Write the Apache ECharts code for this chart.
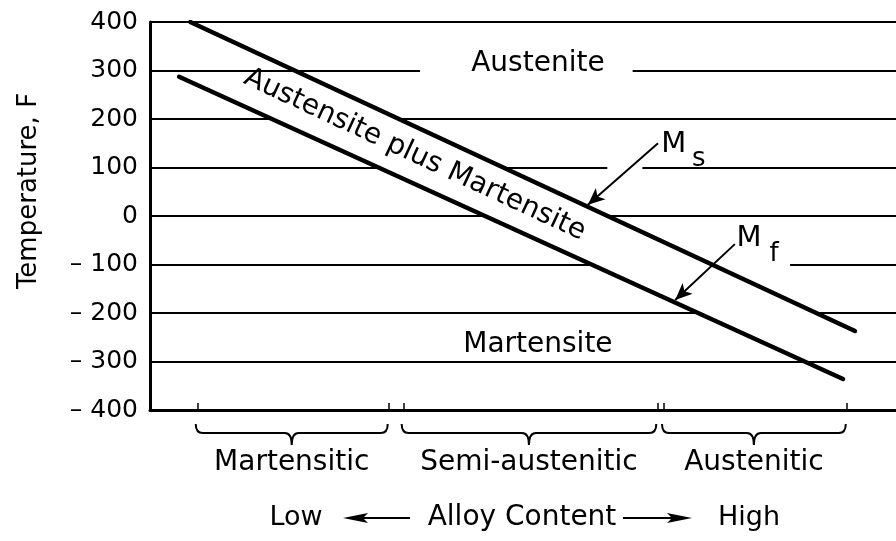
<!DOCTYPE html>
<html>
<head>
<meta charset="utf-8">
<script src="https://cdn.jsdelivr.net/npm/echarts@6/dist/echarts.min.js"></script>
<style>
  html, body { margin: 0; padding: 0; background: #fff; }
  #chart { width: 896px; height: 541px; }
</style>
</head>
<body>
<div id="chart"></div>
<script>
// Ms / Mf lines, [alloy content, temperature F]
const msLine = [[5.4, 400], [94.5, -237]]
const mfLine = [[3.9, 287], [92.9, -336]]

// arrows pointing at the lines (tail, head)
const msArrow = [[68.1, 150], [58.7, 23]]
const mfArrow = [[78.4, -58], [70.4, -173]]

// line names, drawn as M + subscript
const markMain = ['M', 'M']
const markSub = ['s', 'f']
const markX = [70.2, 80.3]
const markY = [148, -47]

// alloy groups along the bottom
const groupNames = ['Martensitic', 'Semi-austenitic', 'Austenitic']
const groupFrom = [6.4, 34.0, 68.9]
const groupTo = [32.0, 68.0, 93.4]

// phase regions
const regionNames = ['Austenite', 'Martensite']
const regionX = [52, 52]
const regionY = [315, -266]

const bandName = 'Austensite plus Martensite'
const bandX = 35.5
const bandY = 126

// grid lines are broken where labels / arrows cross them: [from, to, temp]
const gridGaps = [[36.2, 64.7, 300], [61.3, 66.0, 100], [74.5, 85.8, -100]]

const FONT = 'DejaVu Sans'

// x of a line at a given temperature
function xAt (line, t) {
  const a = line[0]
  const b = line[1]
  return a[0] + (t - a[1]) * (b[0] - a[0]) / (b[1] - a[1])
}

// corners of the two-phase band (grid lines are hidden inside it)
const bandTop = mfLine[0][1]
const bandBottom = msLine[1][1]
const bandCorners = [
  [xAt(msLine, bandTop), bandTop],
  [msLine[1][0], msLine[1][1]],
  [xAt(mfLine, bandBottom), bandBottom],
  [mfLine[0][0], mfLine[0][1]]
]

function txt (x, y, s, size) {
  return { type: 'text', x: x, y: y, style: { text: s, fontSize: size, fontFamily: FONT, fill: '#000', align: 'center', verticalAlign: 'middle' } }
}

const chart = echarts.init(document.getElementById('chart'))

const option = {
  animation: false,
  backgroundColor: '#fff',
  textStyle: { fontFamily: FONT, color: '#000' },
  grid: { left: 150, right: 0, top: 22, bottom: 131 },
  xAxis: {
    type: 'value',
    min: 0,
    max: 100,
    axisLine: { onZero: false, lineStyle: { color: '#000', width: 3 } },
    axisTick: {
      show: true,
      inside: true,
      length: 7,
      customValues: groupFrom.concat(groupTo),
      lineStyle: { color: '#000', width: 1.5 }
    },
    axisLabel: { show: false },
    splitLine: { show: false }
  },
  yAxis: {
    type: 'value',
    min: -400,
    max: 400,
    interval: 100,
    axisLine: { show: true, onZero: false, lineStyle: { color: '#000', width: 3 } },
    axisTick: { show: false },
    axisLabel: {
      color: '#000',
      fontSize: 25,
      fontFamily: FONT,
      margin: 12,
      formatter: function (v) {
        return v < 0 ? '\u2013 ' + Math.abs(v) : String(v)
      }
    },
    splitLine: { show: true, lineStyle: { color: '#000', width: 1.8 } }
  },
  graphic: [
    Object.assign(txt(29, 191, 'Temperature, F', 26), { rotation: Math.PI / 2 }),
    txt(296, 518, 'Low', 27),
    txt(522, 518, 'Alloy Content', 28),
    txt(749, 518, 'High', 27),
    // left arrow
    { type: 'line', shape: { x1: 360, y1: 518, x2: 410, y2: 518 }, style: { stroke: '#000', lineWidth: 2 } },
    { type: 'polygon', shape: { points: [[343, 518], [368, 513], [363, 518], [368, 523]] }, style: { fill: '#000' } },
    // right arrow
    { type: 'line', shape: { x1: 623, y1: 518, x2: 675, y2: 518 }, style: { stroke: '#000', lineWidth: 2 } },
    { type: 'polygon', shape: { points: [[692, 518], [667, 513], [672, 518], [667, 523]] }, style: { fill: '#000' } }
  ],
  series: [
    {
      // white masks: the two-phase band and the gaps in the grid lines
      type: 'custom',
      z: 2,
      silent: true,
      data: gridGaps,
      renderItem: function (params, api) {
        const a = api.coord([api.value(0), api.value(2)])
        const b = api.coord([api.value(1), api.value(2)])
        const children = [
          { type: 'rect', shape: { x: a[0], y: a[1] - 4, width: b[0] - a[0], height: 8 }, style: { fill: '#fff' } }
        ]
        if (params.dataIndex === 0) {
          const pts = bandCorners.map(function (p) { return api.coord(p) })
          children.push({ type: 'polygon', shape: { points: pts }, style: { fill: '#fff' } })
        }
        return { type: 'group', children: children }
      }
    },
    {
      name: 'Ms',
      type: 'line',
      z: 4,
      silent: true,
      symbol: 'none',
      data: msLine,
      lineStyle: { color: '#000', width: 4.5, cap: 'round' },
      markLine: {
        silent: true,
        symbol: ['none', 'arrow'],
        symbolSize: [11, 17],
        label: { show: false },
        lineStyle: { color: '#000', width: 2, type: 'solid' },
        data: [[{ coord: msArrow[0] }, { coord: msArrow[1] }]]
      }
    },
    {
      name: 'Mf',
      type: 'line',
      z: 4,
      silent: true,
      symbol: 'none',
      data: mfLine,
      lineStyle: { color: '#000', width: 4.5, cap: 'round' },
      markLine: {
        silent: true,
        symbol: ['none', 'arrow'],
        symbolSize: [11, 17],
        label: { show: false },
        lineStyle: { color: '#000', width: 2, type: 'solid' },
        data: [[{ coord: mfArrow[0] }, { coord: mfArrow[1] }]]
      }
    },
    {
      // phase region labels
      type: 'custom',
      z: 5,
      silent: true,
      data: regionNames.map((n, i) => [regionX[i], regionY[i]]),
      renderItem: function (params, api) {
        const p = api.coord([api.value(0), api.value(1)])
        return txt(p[0], p[1], regionNames[params.dataIndex], 28)
      }
    },
    {
      // label along the band
      type: 'custom',
      z: 5,
      silent: true,
      data: [[bandX, bandY]],
      renderItem: function (params, api) {
        const p = api.coord([api.value(0), api.value(1)])
        const a = api.coord(msLine[0])
        const b = api.coord(msLine[1])
        return Object.assign(txt(p[0], p[1], bandName, 28), { rotation: -Math.atan2(b[1] - a[1], b[0] - a[0]) })
      }
    },
    {
      // Ms / Mf names
      type: 'custom',
      z: 5,
      silent: true,
      data: markMain.map((n, i) => [markX[i], markY[i]]),
      renderItem: function (params, api) {
        const p = api.coord([api.value(0), api.value(1)])
        return {
          type: 'group',
          children: [
            txt(p[0], p[1], markMain[params.dataIndex], 29),
            txt(p[0] + 25, p[1] + 15, markSub[params.dataIndex], 26)
          ]
        }
      }
    },
    {
      // braces under the x axis with group names
      type: 'custom',
      z: 5,
      silent: true,
      clip: false,
      data: groupNames.map((n, i) => [groupFrom[i], groupTo[i]]),
      renderItem: function (params, api) {
        const a = api.coord([api.value(0), -400])
        const b = api.coord([api.value(1), -400])
        const x1 = a[0] - 2
        const x2 = b[0] - 1
        const xc = (x1 + x2) / 2
        const y0 = a[1] + 14
        const y1 = a[1] + 23
        const yt = a[1] + 35
        const r = 7
        const d = 'M' + x1 + ' ' + y0 +
          ' Q' + x1 + ' ' + y1 + ' ' + (x1 + r) + ' ' + y1 +
          ' L' + (xc - r) + ' ' + y1 +
          ' Q' + xc + ' ' + y1 + ' ' + xc + ' ' + yt +
          ' Q' + xc + ' ' + y1 + ' ' + (xc + r) + ' ' + y1 +
          ' L' + (x2 - r) + ' ' + y1 +
          ' Q' + x2 + ' ' + y1 + ' ' + x2 + ' ' + y0
        return {
          type: 'group',
          children: [
            { type: 'path', shape: { pathData: d }, style: { fill: null, stroke: '#000', lineWidth: 2 } },
            txt(xc, a[1] + 53, groupNames[params.dataIndex], 28)
          ]
        }
      }
    }
  ]
}

chart.setOption(option)
</script>
</body>
</html>
